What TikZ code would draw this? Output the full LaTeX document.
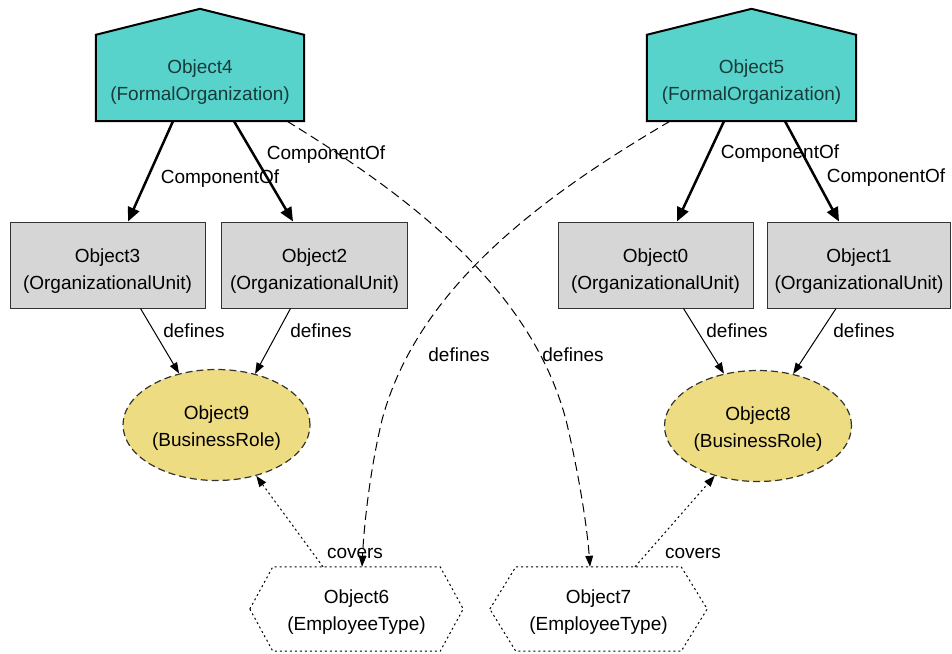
\documentclass[tikz,border=0pt]{standalone}
\usepackage{fontspec}
\setmainfont{Liberation Sans}
\usetikzlibrary{arrows.meta,shapes.geometric}
\definecolor{orgteal}{HTML}{58D3CC}
\definecolor{orgtext}{HTML}{173B39}
\definecolor{unitgray}{HTML}{D6D6D6}
\definecolor{roleyellow}{HTML}{EEDC82}
\newcommand{\twolines}[2]{\begin{tabular}{@{}c@{}}#1\\#2\end{tabular}}
\begin{document}
\begin{tikzpicture}[x=1pt,y=-1pt,
  font=\fontsize{19}{27}\selectfont,
  base/.style={inner sep=0pt, align=center},
  orgnode/.style={base, text=orgtext, minimum width=208pt, minimum height=86pt},
  housefill/.style={fill=orgteal, draw=black, line width=2pt, line join=miter},
  unitnode/.style={base, draw=black!80, fill=unitgray, line width=1pt, minimum height=86pt},
  rolenode/.style={base, ellipse, draw=black!80, fill=roleyellow, line width=1.2pt, dash pattern=on 7pt off 4pt, minimum width=187pt, minimum height=111pt},
  typenode/.style={base, minimum height=84pt},
  hexline/.style={draw=black, line width=1pt, dash pattern=on 2pt off 3pt},
  lbl/.style={inner sep=0pt},
  compedge/.style={line width=2.5pt, -{Triangle[length=14pt,width=12pt]}},
  defedge/.style={line width=1pt, -{Triangle[length=11pt,width=8pt]}},
  crossedge/.style={line width=1pt, dash pattern=on 9pt off 5pt, -{Triangle[length=11pt,width=8pt,line width=0pt]}},
  covedge/.style={line width=1pt, dash pattern=on 2pt off 3pt, -{Triangle[length=11pt,width=8pt]}},
]
\useasboundingbox (0,0) rectangle (952,653);

% FormalOrganization nodes (house shapes)
\node[orgnode] (o4) at (200,78) {};
\node[orgnode, minimum width=209pt] (o5) at (751.5,78) {};
\draw[housefill] (o4.south west) -- (o4.north west) -- ([yshift=26pt]o4.north) -- (o4.north east) -- (o4.south east) -- cycle;
\draw[housefill] (o5.south west) -- (o5.north west) -- ([yshift=26pt]o5.north) -- (o5.north east) -- (o5.south east) -- cycle;
\node[base, text=orgtext] (t4) at ([yshift=-4pt]o4.center) {\twolines{Object4}{(FormalOrganization)}};
\node[base, text=orgtext] (t5) at ([yshift=-4pt]o5.center) {\twolines{Object5}{(FormalOrganization)}};

% OrganizationalUnit nodes
\node[unitnode, minimum width=195pt] (o3) at (107.5,265) {};
\node[unitnode, minimum width=186pt] (o2) at (314.5,265) {};
\node[unitnode, minimum width=195pt] (o0) at (655.5,265) {};
\node[unitnode, minimum width=183pt] (o1) at (859,265) {};
\node[base] (t3) at ([yshift=-6pt]o3.center) {\twolines{Object3}{(OrganizationalUnit)}};
\node[base] (t2) at ([yshift=-6pt]o2.center) {\twolines{Object2}{(OrganizationalUnit)}};
\node[base] (t0) at ([yshift=-6pt]o0.center) {\twolines{Object0}{(OrganizationalUnit)}};
\node[base] (t1) at ([yshift=-6pt]o1.center) {\twolines{Object1}{(OrganizationalUnit)}};

% BusinessRole nodes
\node[rolenode] (o9) at (216.5,425) {};
\node[rolenode] (o8) at (758,426) {};
\node[base] (t9) at ([yshift=-3pt]o9.center) {\twolines{Object9}{(BusinessRole)}};
\node[base] (t8) at ([yshift=-3pt]o8.center) {\twolines{Object8}{(BusinessRole)}};

% EmployeeType nodes (hexagons)
\node[typenode, minimum width=213pt] (o6) at (356.5,609) {};
\node[typenode, minimum width=217pt] (o7) at (598.5,609) {};
\draw[hexline] (o6.west) -- ([xshift=23pt]o6.north west) -- ([xshift=-23pt]o6.north east) -- (o6.east) -- ([xshift=-23pt]o6.south east) -- ([xshift=23pt]o6.south west) -- cycle;
\draw[hexline] (o7.west) -- ([xshift=26pt]o7.north west) -- ([xshift=-26pt]o7.north east) -- (o7.east) -- ([xshift=-26pt]o7.south east) -- ([xshift=26pt]o7.south west) -- cycle;
\node[base] (t6) at ([yshift=-3pt]o6.center) {\twolines{Object6}{(EmployeeType)}};
\node[base] (t7) at ([yshift=-3pt]o7.center) {\twolines{Object7}{(EmployeeType)}};

% ComponentOf edges
\draw[compedge] ([xshift=-27pt]o4.south) -- ([xshift=20.5pt]o3.north);
\draw[compedge] ([xshift=34pt]o4.south) -- ([xshift=-21.5pt]o2.north);
\draw[compedge] ([xshift=-27.5pt]o5.south) -- ([xshift=21.5pt]o0.north);
\draw[compedge] ([xshift=33.5pt]o5.south) -- ([xshift=-20pt]o1.north);
\node[lbl] (l1) at (220,179) {ComponentOf};
\node[lbl] (l2) at (326,155) {ComponentOf};
\node[lbl] (l3) at (780,154) {ComponentOf};
\node[lbl] (l4) at (886,178) {ComponentOf};

% defines edges (units to roles)
\draw[defedge] ([xshift=33pt]o3.south) -- (o9.126);
\draw[defedge] ([xshift=-24pt]o2.south) -- (o9.53);
\draw[defedge] ([xshift=28pt]o0.south) -- (o8.123);
\draw[defedge] ([xshift=-23pt]o1.south) -- (o8.56);
\node[lbl] (l5) at (194,331) {defines};
\node[lbl] (l6) at (321,331) {defines};
\node[lbl] (l7) at (737,331) {defines};
\node[lbl] (l8) at (864,331) {defines};

% defines edges (organizations to employee types, crossing)
\draw[crossedge] ([xshift=-81.5pt]o5.south) .. controls (548,193) and (418,285) .. (382,420) .. controls (370,470) and (364,525) .. ([xshift=5.5pt]o6.north);
\draw[crossedge] ([xshift=87pt]o4.south) .. controls (404,193) and (530,285) .. (566,420) .. controls (578,470) and (587,525) .. ([xshift=-8.5pt]o7.north);
\node[lbl] (l9) at (459,355) {defines};
\node[lbl] (l10) at (573,355) {defines};

% covers edges
\draw[covedge] ([xshift=-33.5pt]o6.north) -- (o9.-52);
\draw[covedge] ([xshift=36.5pt]o7.north) -- (o8.-131);
\node[lbl] (l11) at (355,553) {covers};
\node[lbl] (l12) at (693,553) {covers};
\end{tikzpicture}
\end{document}
